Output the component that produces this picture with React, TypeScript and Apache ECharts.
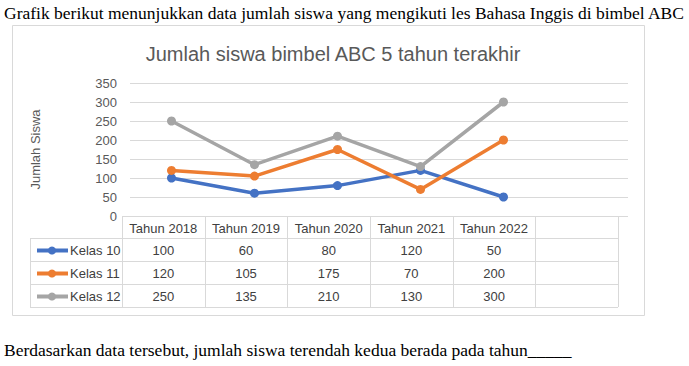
import React, { useEffect, useRef } from "react";
import * as echarts from "echarts";

const years = ["Tahun 2018", "Tahun 2019", "Tahun 2020", "Tahun 2021", "Tahun 2022"];
const seriesNames = ["Kelas 10", "Kelas 11", "Kelas 12"];
const kelas10 = [100, 60, 80, 120, 50];
const kelas11 = [120, 105, 175, 70, 200];
const kelas12 = [250, 135, 210, 130, 300];
const yTicks = [0, 50, 100, 150, 200, 250, 300, 350];

const colors = ["#4472C4", "#ED7D31", "#A5A5A5"];
const FONT = "'Liberation Sans', Arial, sans-serif";
const SERIF = "'Liberation Serif', 'Times New Roman', serif";

export default function App() {
  const ref = useRef<HTMLDivElement>(null);
  useEffect(() => {
    document.body.style.margin = "0";
    const chart = echarts.init(ref.current!, undefined, { renderer: "svg" });
    const allSeries = [kelas10, kelas11, kelas12];

    // table layout
    const tLeft = 122;
    const colW = 82.67;
    const nCols = years.length + 1;
    const rowY = [216, 238, 261, 284, 307];
    const legLeft = 30;
    const border = "#D9D9D9";
    const txt = "#404040";
    const g: any[] = [];

    // outer frame
    g.push({ type: "rect", shape: { x: 12.5, y: 25.5, width: 632, height: 290 }, style: { fill: "none", stroke: "#D9D9D9", lineWidth: 1 }, z: 0 });
    // top sentence
    g.push({ type: "text", x: 4, y: 13, style: { text: "Grafik berikut menunjukkan data jumlah siswa yang mengikuti les Bahasa Inggis di bimbel ABC", font: `17.5px ${SERIF}`, fill: "#000", verticalAlign: "middle", align: "left" } });
    g.push({ type: "text", x: 4, y: 350, style: { text: "Berdasarkan data tersebut, jumlah siswa terendah kedua berada pada tahun_____", font: `17.5px ${SERIF}`, fill: "#000", verticalAlign: "middle", align: "left" } });

    // header row horizontal lines
    const tRight = tLeft + colW * nCols;
    g.push({ type: "line", shape: { x1: tLeft, y1: rowY[0] + 0.5, x2: tRight, y2: rowY[0] + 0.5 }, style: { stroke: border, lineWidth: 1 } });
    for (let r = 1; r < rowY.length; r++) {
      g.push({ type: "line", shape: { x1: legLeft, y1: rowY[r] + 0.5, x2: tRight, y2: rowY[r] + 0.5 }, style: { stroke: border, lineWidth: 1 } });
    }
    // vertical lines
    g.push({ type: "line", shape: { x1: legLeft + 0.5, y1: rowY[1], x2: legLeft + 0.5, y2: rowY[4] }, style: { stroke: border, lineWidth: 1 } });
    for (let c = 0; c <= nCols; c++) {
      const x = Math.round(tLeft + c * colW) + 0.5;
      g.push({ type: "line", shape: { x1: x, y1: rowY[0], x2: x, y2: rowY[4] }, style: { stroke: border, lineWidth: 1 } });
    }
    // header text
    years.forEach((y, i) => {
      g.push({ type: "text", x: tLeft + colW * (i + 0.5), y: (rowY[0] + rowY[1]) / 2 + 1, style: { text: y, font: `13px ${FONT}`, fill: txt, align: "center", verticalAlign: "middle" } });
    });
    // rows
    allSeries.forEach((vals, s) => {
      const cy = (rowY[s + 1] + rowY[s + 2]) / 2 + 1;
      g.push({ type: "line", shape: { x1: 37, y1: cy, x2: 68, y2: cy }, style: { stroke: colors[s], lineWidth: 4 } });
      g.push({ type: "circle", shape: { cx: 52, cy, r: 4 }, style: { fill: colors[s] } });
      g.push({ type: "text", x: 70, y: cy, style: { text: seriesNames[s], font: `13px ${FONT}`, fill: txt, align: "left", verticalAlign: "middle" } });
      vals.forEach((v, i) => {
        g.push({ type: "text", x: tLeft + colW * (i + 0.5), y: cy, style: { text: String(v), font: `13px ${FONT}`, fill: txt, align: "center", verticalAlign: "middle" } });
      });
    });

    chart.setOption({
      animation: false,
      backgroundColor: "#fff",
      title: {
        text: "Jumlah siswa bimbel ABC 5 tahun terakhir",
        left: 328,
        textAlign: "center",
        top: 39,
        textStyle: { fontFamily: FONT, fontSize: 20, fontWeight: "normal", color: "#595959" },
      },
      grid: { left: 130, right: 61, top: 83, bottom: 150 },
      xAxis: {
        type: "category",
        data: [...years, ""],
        boundaryGap: true,
        axisLine: { show: false },
        axisTick: { show: false },
        axisLabel: { show: false },
      },
      yAxis: {
        type: "value",
        min: yTicks[0],
        max: yTicks[yTicks.length - 1],
        interval: 50,
        name: "Jumlah Siswa",
        nameLocation: "middle",
        nameGap: 88,
        nameTextStyle: { fontFamily: FONT, fontSize: 13, color: "#595959" },
        axisLabel: { fontFamily: FONT, fontSize: 13, color: "#595959", margin: 13 },
        splitLine: { lineStyle: { color: "#D9D9D9", width: 1 } },
        axisLine: { show: false },
        axisTick: { show: false },
      },
      series: allSeries.map((d, i) => ({
        type: "line",
        name: seriesNames[i],
        data: d,
        symbol: "circle",
        symbolSize: 9,
        lineStyle: { color: colors[i], width: 3.5 },
        itemStyle: { color: colors[i] },
        z: 3,
      })),
      graphic: g,
    });
    return () => chart.dispose();
  }, []);
  return <div ref={ref} style={{ width: 689, height: 366 }} />;
}
